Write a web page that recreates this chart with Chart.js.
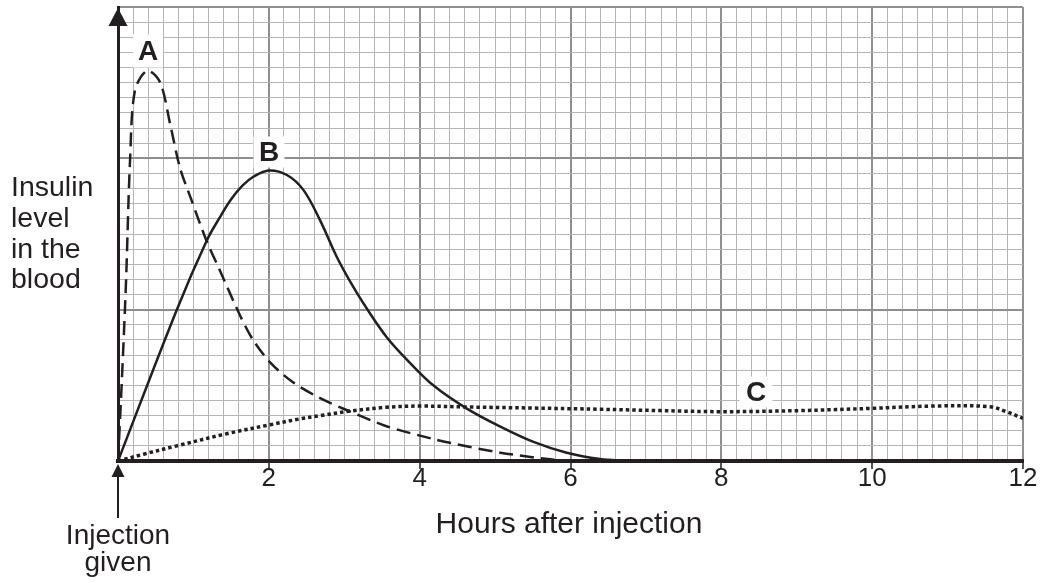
<!DOCTYPE html>
<html>
<head>
<meta charset="utf-8">
<title>Insulin level after injection</title>
<script src="https://cdn.jsdelivr.net/npm/chart.js@4"></script>
<style>
  html, body { margin: 0; padding: 0; background: #ffffff; }
  canvas { display: block; }
</style>
</head>
<body>
<canvas id="chart" width="1044" height="583"></canvas>
<script>
// ---------------------------------------------
// Data (hours, insulin level in grid squares)
// ---------------------------------------------
const hoursA = [0, 0.05, 0.106, 0.16, 0.225, 0.39, 0.56, 0.69, 0.82, 0.97, 1.17, 1.35, 1.62, 1.79, 2.02, 2.32, 2.68, 3.03, 3.56, 4.18, 4.4, 5.07, 5.73, 6.04];
const levelA = [0, 5.2, 11.8, 19.9, 24.5, 25.8, 25.0, 22.3, 19.4, 17.3, 14.6, 12.6, 9.6, 8.0, 6.5, 5.2, 4.15, 3.37, 2.3, 1.45, 1.2, 0.55, 0.11, 0];

const hoursB = [0, 0.78, 1.18, 1.35, 1.5, 1.65, 1.8, 2.0, 2.24, 2.46, 2.68, 2.9, 3.12, 3.34, 3.56, 3.83, 4.18, 4.62, 5.07, 5.5, 5.95, 6.39, 6.75];
const levelB = [0, 10.0, 14.6, 16.1, 17.3, 18.2, 18.8, 19.2, 18.9, 17.9, 15.9, 13.5, 11.5, 9.76, 8.2, 6.7, 5.0, 3.48, 2.27, 1.28, 0.55, 0.13, 0];

const hoursC = [0, 0.34, 0.78, 1.44, 2.02, 2.41, 2.68, 3.08, 3.56, 4.0, 4.62, 5.5, 6.39, 7.19, 8.02, 9.04, 10.0, 10.8, 11.56, 11.78, 12];
const levelC = [0, 0.45, 1.0, 1.8, 2.4, 2.78, 3.0, 3.3, 3.55, 3.63, 3.57, 3.5, 3.42, 3.33, 3.26, 3.33, 3.48, 3.63, 3.59, 3.26, 2.82];

const xTickLabels = ['2', '4', '6', '8', '10', '12'];
const yLabelLines = ['Insulin', 'level', 'in the', 'blood'];
const xTitle = 'Hours after injection';
const injectionLines = ['Injection', 'given'];

// ---------------------------------------------
// Style
// ---------------------------------------------
const ink = '#231f20';
const font = "'Liberation Sans', Arial, sans-serif";
const minorGrid = '#b5b5b5';
const majorGrid = '#8f8f8f';

const toPoints = (xs, ys) => xs.map((x, i) => ({ x: x, y: ys[i] }));

const isMultiple = (v, step) => Math.abs(v / step - Math.round(v / step)) < 1e-6;

// Curve labels, white boxes, arrows and free text
const annotations = {
    id: 'annotations',
    afterDatasetsDraw(chart) {
        const ctx = chart.ctx;
        const labels = [
            { t: 'A', x: 148, y: 51, w: 30, h: 33 },
            { t: 'B', x: 269, y: 152, w: 31, h: 31 },
            { t: 'C', x: 756, y: 392, w: 33, h: 31 }
        ];
        ctx.save();
        ctx.font = 'bold 28px ' + font;
        ctx.textAlign = 'center';
        ctx.textBaseline = 'middle';
        labels.forEach(l => {
            ctx.fillStyle = '#ffffff';
            ctx.fillRect(l.x - l.w / 2, l.y - l.h / 2, l.w, l.h);
            ctx.fillStyle = ink;
            ctx.fillText(l.t, l.x, l.y + 1);
        });
        ctx.restore();
    },
    afterDraw(chart) {
        const ctx = chart.ctx;
        const area = chart.chartArea;
        const x0 = chart.scales.x.getPixelForValue(0);
        ctx.save();
        ctx.fillStyle = ink;
        ctx.strokeStyle = ink;

        // arrow head on the y axis
        ctx.beginPath();
        ctx.moveTo(x0, area.top + 1);
        ctx.lineTo(x0 - 9.5, area.top + 19);
        ctx.lineTo(x0 + 9.5, area.top + 19);
        ctx.closePath();
        ctx.fill();

        // injection arrow
        ctx.lineWidth = 2;
        ctx.beginPath();
        ctx.moveTo(x0, 474);
        ctx.lineTo(x0, 518);
        ctx.stroke();
        ctx.beginPath();
        ctx.moveTo(x0, 464);
        ctx.lineTo(x0 - 6.5, 477);
        ctx.lineTo(x0 + 6.5, 477);
        ctx.closePath();
        ctx.fill();

        ctx.textBaseline = 'alphabetic';
        ctx.textAlign = 'center';
        ctx.font = '28px ' + font;
        ctx.fillText(injectionLines[0], x0, 544);
        ctx.fillText(injectionLines[1], x0, 571);

        // x axis title
        ctx.font = '30px ' + font;
        ctx.fillText(xTitle, 569, 533);

        // y axis title
        ctx.font = '28.5px ' + font;
        ctx.textAlign = 'left';
        const baselines = [196, 227, 258, 288];
        yLabelLines.forEach((line, i) => ctx.fillText(line, 11, baselines[i]));
        ctx.restore();
    }
};

const chart = new Chart(document.getElementById('chart'), {
    type: 'line',
    data: {
        datasets: [
            {
                label: 'A',
                data: toPoints(hoursA, levelA),
                borderColor: ink,
                borderWidth: 2.5,
                borderDash: [14, 7],
                tension: 0.3,
                pointRadius: 0,
                fill: false
            },
            {
                label: 'B',
                data: toPoints(hoursB, levelB),
                borderColor: ink,
                borderWidth: 2.5,
                tension: 0.35,
                pointRadius: 0,
                fill: false
            },
            {
                label: 'C',
                data: toPoints(hoursC, levelC),
                borderColor: ink,
                borderWidth: 3.5,
                borderDash: [3.5, 3],
                borderCapStyle: 'butt',
                tension: 0.35,
                pointRadius: 0,
                fill: false
            }
        ]
    },
    options: {
        responsive: false,
        animation: false,
        layout: { padding: { top: 7, right: 21, left: 0, bottom: 0 } },
        plugins: {
            legend: { display: false },
            tooltip: { enabled: false }
        },
        scales: {
            x: {
                type: 'linear',
                min: 0,
                max: 12,
                afterFit: (scale) => { scale.height = 122; },
                border: { color: ink, width: 4 },
                grid: {
                    color: (c) => isMultiple(c.tick.value, 2) ? majorGrid : minorGrid,
                    lineWidth: (c) => isMultiple(c.tick.value, 2) ? 2 : 1,
                    tickColor: (c) => (isMultiple(c.tick.value, 2) && c.tick.value > 0) ? '#555555' : 'rgba(0,0,0,0)',
                    tickLength: 8
                },
                ticks: {
                    stepSize: 0.2,
                    maxTicksLimit: 100,
                    autoSkip: false,
                    maxRotation: 0,
                    padding: -6,
                    color: ink,
                    font: { family: font, size: 26 },
                    callback: (v) => {
                        const r = Math.round(v * 10) / 10;
                        const label = String(r);
                        return (isMultiple(r, 2) && xTickLabels.includes(label)) ? label : '';
                    }
                }
            },
            y: {
                min: 0,
                max: 30,
                afterFit: (scale) => { scale.width = 118; },
                border: { color: ink, width: 3 },
                grid: {
                    color: (c) => isMultiple(c.tick.value, 10) ? majorGrid : minorGrid,
                    lineWidth: (c) => isMultiple(c.tick.value, 10) ? 2 : 1,
                    drawTicks: false
                },
                ticks: { display: false, stepSize: 1 }
            }
        }
    },
    plugins: [annotations]
});
</script>
</body>
</html>
